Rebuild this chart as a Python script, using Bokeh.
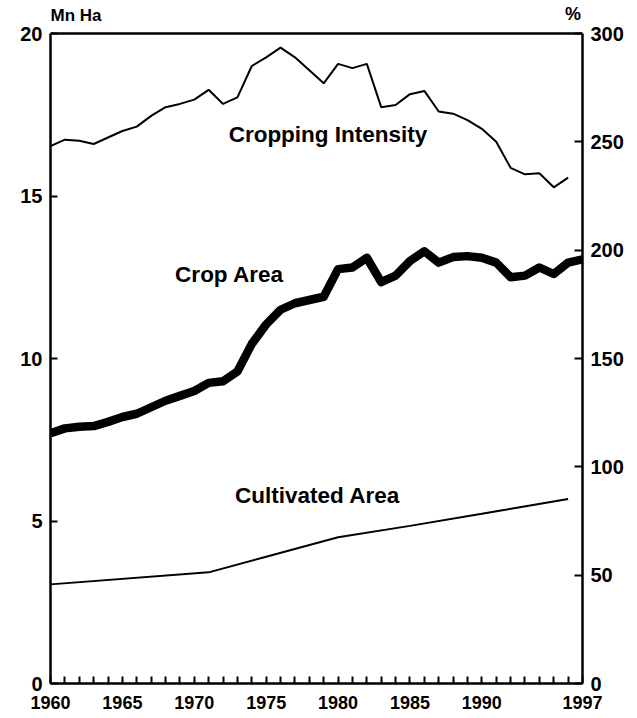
from bokeh.plotting import figure
from bokeh.models import Range1d, LinearAxis, FixedTicker, Label, Span
from bokeh.embed import file_html
from bokeh.resources import INLINE

# ---- data ----
years_ci = list(range(1960, 1997))
cropping_intensity = [248, 251, 250.5, 249, 252, 255, 257, 262, 266, 267.5,
                      269.5, 274, 267.5, 270.5, 285, 289, 293.5, 289, 283, 277,
                      286, 284, 286, 266, 267, 272, 273.5, 264, 263, 260,
                      256, 250, 238, 235, 235.5, 229, 233.5]

years_ca = list(range(1960, 1998))
crop_area = [7.7, 7.85, 7.9, 7.92, 8.05, 8.2, 8.3, 8.5, 8.7, 8.85,
             9.0, 9.25, 9.3, 9.6, 10.45, 11.05, 11.5, 11.7, 11.8, 11.9,
             12.75, 12.8, 13.1, 12.35, 12.55, 13.0, 13.3, 12.95, 13.12, 13.15,
             13.1, 12.95, 12.5, 12.55, 12.8, 12.6, 12.95, 13.05]

years_cult = [1960, 1971, 1975, 1980, 1985, 1990, 1996]
cultivated_area = [3.05, 3.42, 3.9, 4.5, 4.85, 5.22, 5.68]

year_ticks = list(range(1960, 1998))
year_labels = {1960: "1960", 1965: "1965", 1970: "1970", 1975: "1975",
               1980: "1980", 1985: "1985", 1990: "1990", 1997: "1997"}
left_ticks = [0, 5, 10, 15, 20]
right_ticks = [0, 50, 100, 150, 200, 250, 300]

FONT = "Liberation Sans"

# frame is 678 px tall; the 0..20 (0..300) part fills the lower 650 px,
# the rest above holds the unit captions
LEFT_MAX = 20
RIGHT_MAX = 300
EXTRA = 678 / 650.0

p = figure(width=637, height=718,
           x_range=Range1d(1960, 1997),
           y_range=Range1d(0, LEFT_MAX * EXTRA),
           output_backend="svg", toolbar_location=None,
           min_border_left=50, min_border_right=55,
           min_border_top=5, min_border_bottom=35)
p.extra_y_ranges = {"pct": Range1d(0, RIGHT_MAX * EXTRA)}
p.grid.visible = False
p.background_fill_color = "white"
p.border_fill_color = "white"
p.outline_line_color = None

# bottom axis
xa = p.xaxis[0]
xa.ticker = FixedTicker(ticks=year_ticks)
xa.major_label_overrides = {y: year_labels.get(y, "") for y in year_ticks}
xa.major_tick_in = 7
xa.major_tick_out = 0
xa.minor_tick_line_color = None
xa.major_label_standoff = 12

# left axis
ya = p.yaxis[0]
ya.ticker = FixedTicker(ticks=left_ticks)
ya.bounds = (0, LEFT_MAX)
ya.major_tick_in = 7
ya.major_tick_out = 0
ya.minor_tick_line_color = None
ya.major_label_standoff = 8

# right axis
ra = LinearAxis(y_range_name="pct", ticker=FixedTicker(ticks=right_ticks),
                bounds=(0, RIGHT_MAX))
ra.major_tick_in = 8
ra.major_tick_out = 0
ra.minor_tick_line_color = None
ra.major_label_standoff = 8
p.add_layout(ra, "right")

for ax in (xa, ya, ra):
    ax.axis_line_color = "black"
    ax.axis_line_width = 2.5
    ax.major_tick_line_color = "black"
    ax.major_tick_line_width = 2
    ax.major_label_text_font = FONT
    ax.major_label_text_font_style = "bold"
    ax.major_label_text_color = "black"
    ax.major_label_orientation = "horizontal"
xa.major_label_text_font_size = "18px"
ya.major_label_text_font_size = "20px"
ra.major_label_text_font_size = "20px"

# top border of the plot box
p.add_layout(Span(location=LEFT_MAX, dimension="width",
                  line_color="black", line_width=2.5))

# series
p.line(years_ci, cropping_intensity, y_range_name="pct",
       line_color="black", line_width=2)
p.line(years_ca, crop_area, line_color="black", line_width=8.5,
       line_join="round", line_cap="butt")
p.line(years_cult, cultivated_area, line_color="black", line_width=2)

def lab(x, y, t, size, align="center"):
    p.add_layout(Label(x=x, y=y, text=t, text_align=align,
                       text_baseline="middle", text_font=FONT,
                       text_font_style="bold", text_font_size=size,
                       text_color="black"))

lab(1979.3, 16.88, "Cropping Intensity", "22.5px")
lab(1972.45, 12.6, "Crop Area", "22.5px")
lab(1978.57, 5.78, "Cultivated Area", "22.5px")
lab(1960.0, 20.55, "Mn Ha", "17px", align="left")
lab(1996.9, 20.6, "%", "18px", align="right")

open("out.html", "w").write(file_html(p, INLINE))
